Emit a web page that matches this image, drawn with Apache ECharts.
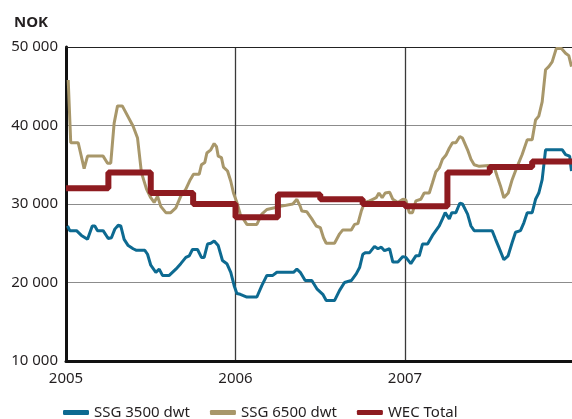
<!DOCTYPE html>
<html>
<head>
<meta charset="utf-8">
<script src="https://cdn.jsdelivr.net/npm/echarts@6/dist/echarts.min.js"></script>
<style>
html,body{margin:0;padding:0;background:#fff;}
#chart{width:572px;height:419px;}
</style>
</head>
<body>
<div id="chart"></div>
<script>
// Decimal-year positions and values (NOK)
var ssg6500T = [2005.013,2005.028,2005.072,2005.107,2005.127,2005.219,2005.245,2005.264,2005.284,2005.304,2005.332,2005.396,2005.422,2005.445,2005.475,2005.500,2005.520,2005.540,2005.559,2005.589,2005.618,2005.648,2005.677,2005.707,2005.733,2005.752,2005.786,2005.799,2005.819,2005.831,2005.854,2005.874,2005.888,2005.898,2005.917,2005.929,2005.953,2005.972,2005.988,2006.008,2006.028,2006.067,2006.126,2006.155,2006.185,2006.224,2006.264,2006.338,2006.362,2006.382,2006.391,2006.421,2006.450,2006.476,2006.500,2006.519,2006.535,2006.584,2006.614,2006.633,2006.683,2006.702,2006.722,2006.742,2006.761,2006.791,2006.810,2006.830,2006.846,2006.865,2006.883,2006.909,2006.928,2006.958,2006.987,2007.005,2007.025,2007.044,2007.064,2007.093,2007.113,2007.143,2007.162,2007.182,2007.202,2007.221,2007.241,2007.261,2007.280,2007.300,2007.323,2007.339,2007.369,2007.389,2007.408,2007.438,2007.494,2007.524,2007.544,2007.563,2007.583,2007.609,2007.632,2007.662,2007.691,2007.721,2007.750,2007.770,2007.789,2007.809,2007.829,2007.848,2007.868,2007.892,2007.923,2007.947,2007.966,2007.982];
var ssg6500V = [45800,37800,37800,34500,36100,36100,35200,35200,40300,42500,42500,39900,38400,34000,31900,30800,30200,31000,29700,28900,28900,29500,31000,31900,33100,33800,33800,35000,35300,36500,36900,37700,37300,36100,35900,34700,34200,32900,31400,30200,28700,27400,27400,28700,29300,29500,29700,30000,30600,29700,29100,29000,28100,27200,27000,25700,25000,25000,26200,26700,26700,27400,27500,29100,30200,30400,30600,30800,31400,30800,31400,31500,30600,30200,30600,30500,28900,28900,30400,30600,31400,31400,32700,34100,34600,35700,36200,37100,37800,37800,38600,38400,36900,35700,35000,34800,34900,34850,33500,32300,30800,31400,33100,34800,36300,38200,38200,40700,41200,43000,47100,47500,48100,49800,49800,49200,48900,47500];

var ssg3500T = [2005.009,2005.022,2005.062,2005.091,2005.127,2005.155,2005.170,2005.186,2005.219,2005.249,2005.268,2005.288,2005.308,2005.323,2005.343,2005.367,2005.396,2005.416,2005.465,2005.481,2005.500,2005.530,2005.550,2005.569,2005.609,2005.648,2005.677,2005.707,2005.727,2005.746,2005.776,2005.799,2005.815,2005.835,2005.854,2005.874,2005.898,2005.923,2005.949,2005.972,2005.992,2006.008,2006.028,2006.067,2006.126,2006.155,2006.185,2006.220,2006.244,2006.342,2006.362,2006.382,2006.411,2006.450,2006.480,2006.515,2006.535,2006.584,2006.614,2006.643,2006.683,2006.712,2006.732,2006.751,2006.767,2006.791,2006.820,2006.840,2006.860,2006.879,2006.909,2006.928,2006.958,2006.987,2007.005,2007.034,2007.064,2007.084,2007.103,2007.133,2007.162,2007.182,2007.202,2007.221,2007.237,2007.261,2007.276,2007.300,2007.323,2007.339,2007.369,2007.389,2007.408,2007.514,2007.534,2007.553,2007.583,2007.608,2007.632,2007.652,2007.681,2007.701,2007.721,2007.750,2007.770,2007.789,2007.809,2007.829,2007.928,2007.947,2007.971,2007.982];
var ssg3500V = [27200,26600,26600,26000,25500,27200,27200,26600,26600,25600,25700,26800,27300,27200,25500,24700,24300,24100,24100,23600,22200,21300,21700,20900,20900,21700,22400,23200,23400,24200,24200,23200,23200,24900,25000,25300,24700,22800,22400,21300,19600,18600,18500,18150,18150,19600,20900,20900,21300,21300,21700,21300,20250,20250,19200,18500,17700,17700,19000,20000,20250,21100,21900,23600,23800,23800,24600,24300,24500,24050,24300,22600,22600,23300,23200,22400,23400,23400,24900,24900,26000,26600,27200,28100,28900,28100,28900,28900,30100,30000,28700,27200,26600,26600,25500,24500,22900,23400,25100,26400,26600,27600,28900,28900,30600,31400,33100,36900,36900,36300,36100,34200];

// WEC Total: quarterly values
var wecT = [2005.00,2005.25,2005.50,2005.75,2006.00,2006.25,2006.50,2006.75,2007.00,2007.25,2007.50,2007.75,2007.985];
var wecV = [32000,34000,31400,30000,28300,31200,30600,30000,29700,34000,34700,35400,35400];

var yTicks = [10000,20000,30000,40000,50000];
var xYears = [2005,2006,2007];

function zip(a,b){ return a.map(function(t,i){ return [t,b[i]]; }); }
function fmt(v){ return String(v).replace(/\B(?=(\d{3})+(?!\d))/g,' '); }

var chart = echarts.init(document.getElementById('chart'), null, {renderer:'canvas'});
var font = '"Noto Sans", "Open Sans", sans-serif';
var xMax = 2007.985;
chart.setOption({
  animation:false,
  backgroundColor:'#fff',
  title:{text:'NOK', left:9, top:10, textStyle:{fontFamily:font, fontSize:15, fontWeight:'bold', color:'#231f20'}},
  grid:{left:66, right:0, top:47, bottom:58, containLabel:false},
  legend:{
    left:58, top:400, itemWidth:26, itemHeight:5, itemGap:20, icon:'roundRect',
    textStyle:{fontFamily:font, fontSize:15, color:'#231f20'},
    data:['SSG 3500 dwt','SSG 6500 dwt','WEC Total']
  },
  xAxis:[{
    type:'value', min:2005, max:xMax, interval:1,
    axisLine:{show:true, onZero:false, lineStyle:{color:'#111', width:3}},
    axisTick:{show:false},
    axisLabel:{fontFamily:font, fontSize:15, color:'#231f20', margin:10, showMaxLabel:false,
      formatter:function(v){ return xYears.indexOf(v)>=0 ? String(v) : ''; }},
    splitLine:{show:true, showMaxLine:false, lineStyle:{color:'#3a3a3a', width:1.3}}
  },{
    type:'value', position:'top', min:2005, max:xMax,
    axisLine:{show:true, lineStyle:{color:'#222', width:1.2}},
    axisTick:{show:false}, axisLabel:{show:false}, splitLine:{show:false}
  }],
  yAxis:{
    type:'value', min:10000, max:50000, interval:10000,
    axisLine:{show:true, lineStyle:{color:'#111', width:3}},
    axisTick:{show:false},
    axisLabel:{fontFamily:font, fontSize:15, color:'#231f20', margin:8, formatter:function(v){ return fmt(v); }},
    splitLine:{show:true, lineStyle:{color:'#8c8c8c', width:1}}
  },
  series:[
    {name:'SSG 3500 dwt', type:'line', showSymbol:false, data:zip(ssg3500T, ssg3500V),
      lineStyle:{color:'#0d6a91', width:3}, itemStyle:{color:'#0d6a91'}},
    {name:'SSG 6500 dwt', type:'line', showSymbol:false, data:zip(ssg6500T, ssg6500V),
      lineStyle:{color:'#a8976a', width:3}, itemStyle:{color:'#a8976a'}},
    {name:'WEC Total', type:'line', step:'end', showSymbol:false, data:zip(wecT, wecV),
      lineStyle:{color:'#8e1b20', width:6}, itemStyle:{color:'#8e1b20'}}
  ]
});
</script>
</body>
</html>
